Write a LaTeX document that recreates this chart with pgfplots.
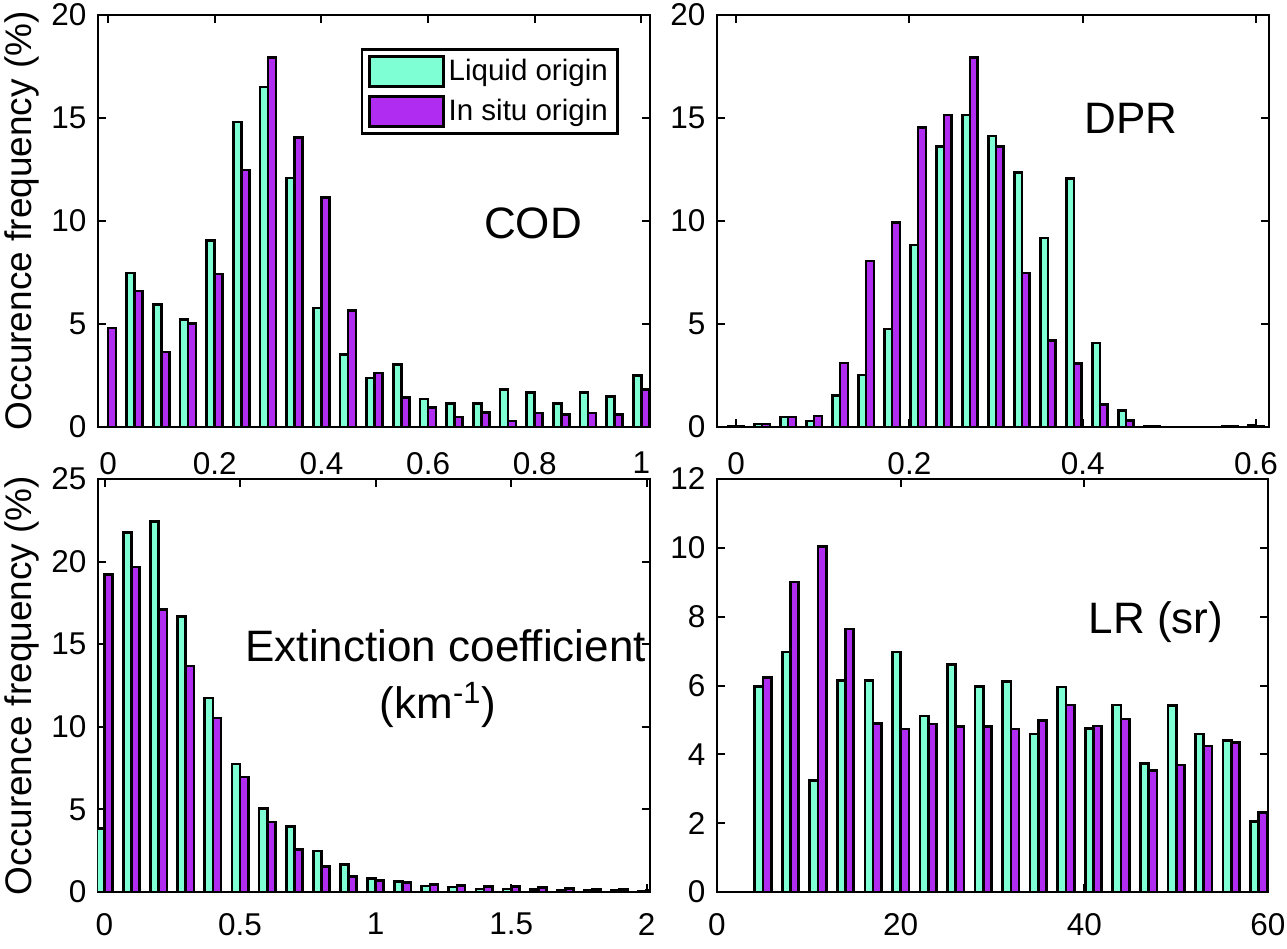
\documentclass[border=0pt]{standalone}
\usepackage{fontspec}
\setmainfont{Liberation Sans}
\usepackage{pgfplots}
\usepackage{pgfplotstable}
\pgfplotsset{compat=1.18}
\definecolor{liq}{RGB}{127,255,212}
\definecolor{ins}{RGB}{176,44,240}

\pgfplotstableread{
x L I
0.00 0 4.81
0.05 7.48 6.60
0.10 5.94 3.64
0.15 5.23 5.02
0.20 9.04 7.42
0.25 14.80 12.47
0.30 16.50 17.94
0.35 12.08 14.04
0.40 5.78 11.14
0.45 3.53 5.67
0.50 2.38 2.62
0.55 3.04 1.43
0.60 1.36 0.94
0.65 1.13 0.49
0.70 1.13 0.71
0.75 1.83 0.29
0.80 1.68 0.68
0.85 1.13 0.62
0.90 1.68 0.68
0.95 1.49 0.62
1.00 2.51 1.81
}\cod

\pgfplotstableread{
x L I
0.00 0.02 0.02
0.03 0.15 0.15
0.06 0.49 0.49
0.09 0.29 0.53
0.12 1.52 3.11
0.15 2.53 8.06
0.18 4.76 9.91
0.21 8.84 14.53
0.24 13.60 15.14
0.27 15.14 17.93
0.30 14.12 13.60
0.33 12.37 7.48
0.36 9.17 4.21
0.39 12.06 3.08
0.42 4.08 1.10
0.45 0.81 0.32
0.48 0.05 0.03
0.51 0 0
0.54 0 0
0.57 0.04 0.03
0.60 0.08 0.05
}\dpr

\pgfplotstableread{
x L I
0.0 3.84 19.20
0.1 21.77 19.68
0.2 22.41 17.08
0.3 16.67 13.68
0.4 11.74 10.53
0.5 7.74 6.97
0.6 5.05 4.24
0.7 3.98 2.57
0.8 2.49 1.56
0.9 1.68 0.95
1.0 0.83 0.71
1.1 0.65 0.57
1.2 0.36 0.46
1.3 0.30 0.40
1.4 0.18 0.32
1.5 0.18 0.32
1.6 0.16 0.28
1.7 0.12 0.22
1.8 0.10 0.16
1.9 0.08 0.14
2.0 0.05 0.10
}\ext

\pgfplotstableread{
x L I
5 5.97 6.24
8 6.97 9.01
11 3.23 10.03
14 6.14 7.64
17 6.14 4.90
20 6.97 4.74
23 5.11 4.88
26 6.62 4.80
29 5.97 4.80
32 6.12 4.74
35 4.59 4.98
38 5.96 5.43
41 4.76 4.82
44 5.43 5.03
47 3.73 3.54
50 5.42 3.69
53 4.59 4.24
56 4.41 4.35
59 2.04 2.32
}\lr

\tikzset{annot/.style={font=\fontsize{22}{24}\selectfont}}

\pgfplotsset{
  panel/.style={
    scale only axis, width=276pt, height=206pt, anchor=south west,
    axis line style={line width=1.3pt},
    every tick/.style={black, line width=1pt},
    tick align=inside, xtick pos=both, ytick pos=both,
    major tick length=4pt,
    ymin=0,
    ticklabel style={font=\fontsize{15.75}{18}\selectfont},
    /pgf/number format/assume math mode=true,
    yticklabel style={xshift=-2.3pt},
    clip mode=individual,
  },
  ylab/.style={
    ylabel={Occurence frequency (\%)},
    ylabel style={font=\fontsize{18.5}{21}\selectfont, at={(axis description cs:-0.138,0.5)}, anchor=center},
  },
  barL/.style={ybar, fill=liq, draw=black, line width=1.35pt,
    legend image code/.code={\draw[fill=liq,draw=black,line width=1.35pt] (0pt,-7.5pt) rectangle (37pt,7.5pt);}},
  barI/.style={ybar, fill=ins, draw=black, line width=1.35pt,
    legend image code/.code={\draw[fill=ins,draw=black,line width=1.35pt] (0pt,-7.5pt) rectangle (37pt,7.5pt);}},
}

\begin{document}
\begin{tikzpicture}
\useasboundingbox (0,0) rectangle (643.5pt,474.5pt);

% COD
\begin{axis}[panel, ylab, at={(49pt,261pt)},
  xmin=-0.019, xmax=1.016, ymax=20,
  xtick={0,0.2,0.4,0.6,0.8,1}, ytick={0,5,10,15,20},
  xticklabel style={yshift=-9pt},
  legend style={at={(0.944,0.92)}, anchor=north east, draw=black, line width=1.3pt,
    font=\fontsize{14.75}{17}\selectfont, legend cell align=left,
    inner xsep=3pt, inner ysep=3pt, row sep=3.5pt,
    nodes={inner sep=2pt}},
  ]
\addplot[barL, bar width=0.015, bar shift=-0.0075] table[x=x,y=L] {\cod};
\addlegendentry{Liquid origin}
\addplot[barI, bar width=0.015, bar shift=0.0075] table[x=x,y=I] {\cod};
\addlegendentry{In situ origin}
\node[annot] at (rel axis cs:0.788,0.495) {COD};
\end{axis}

% DPR
\begin{axis}[panel, at={(358.5pt,261pt)},
  xmin=-0.022, xmax=0.615, ymax=20,
  xtick={0,0.2,0.4,0.6}, ytick={0,5,10,15,20},
  xticklabel style={yshift=-9pt},
  ]
\addplot[barL, bar width=0.009, bar shift=-0.0045] table[x=x,y=L] {\dpr};
\addplot[barI, bar width=0.009, bar shift=0.0045] table[x=x,y=I] {\dpr};
\node[annot] at (rel axis cs:0.75,0.748) {DPR};
\end{axis}

% Extinction
\begin{axis}[panel, ylab, at={(49pt,28.5pt)}, height=206.5pt,
  xmin=-0.024, xmax=2.012, ymax=25,
  xtick={0,0.5,1,1.5,2}, ytick={0,5,10,15,20,25},
  xticklabel style={yshift=-7pt},
  ]
\addplot[barL, bar width=0.03, bar shift=-0.015] table[x=x,y=L] {\ext};
\addplot[barI, bar width=0.03, bar shift=0.015] table[x=x,y=I] {\ext};
\node[annot] at (rel axis cs:0.630,0.596) {Extinction coefficient};
\node[annot] at (rel axis cs:0.616,0.453) {(km\textsuperscript{-1})};
\end{axis}

% LR
\begin{axis}[panel, at={(358.5pt,28.5pt)}, height=206.5pt, width=275.5pt,
  xmin=0, xmax=60, ymax=12,
  xtick={0,20,40,60}, ytick={0,2,4,6,8,10,12},
  xticklabel style={yshift=-7pt},
  ]
\addplot[barL, bar width=0.9, bar shift=-0.45] table[x=x,y=L] {\lr};
\addplot[barI, bar width=0.9, bar shift=0.45] table[x=x,y=I] {\lr};
\node[annot] at (rel axis cs:0.797,0.653) {LR (sr)};
\end{axis}
\end{tikzpicture}
\end{document}
